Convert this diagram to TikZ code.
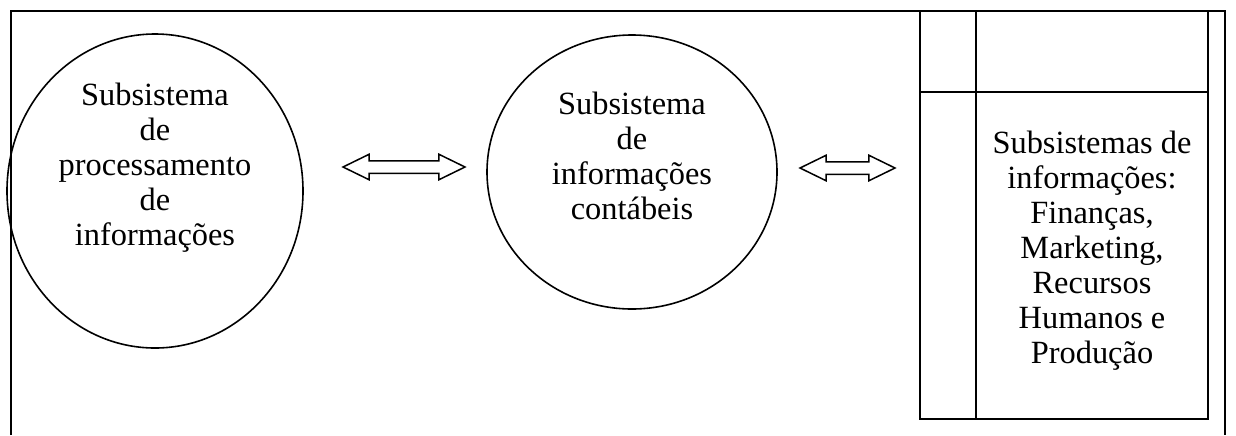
\documentclass[tikz,border=0pt]{standalone}
\usepackage{fontspec}
\setmainfont{Liberation Serif}
\usetikzlibrary{shapes.geometric,shapes.arrows}

\begin{document}
\begin{tikzpicture}[x=0.5pt,y=-0.5pt,
    sub/.style={draw,ellipse,line width=0.8pt,inner sep=0pt},
    rotulo/.style={align=center,inner sep=0pt,font=\fontsize{16.2pt}{17.5pt}\selectfont},
    seta/.style={draw,double arrow,line width=0.75pt,inner xsep=0pt,inner ysep=2.75pt,
      double arrow head extend=3.25pt,double arrow tip angle=52}]
      \useasboundingbox (0,0) rectangle (1236,435);
      \draw [line width=1pt] (11,435) -- (11,11) -- (1225,11) -- (1225,435);
%%
      \node (SP) [sub,minimum width=148pt,minimum height=157pt] at (155,191) {};
      \node (SPt) [rotulo] at (155,168) {Subsistema\\de\\processamento\\de\\informações};
%%
      \node (SC) [sub,minimum width=145pt,minimum height=137pt] at (632,172) {};
      \node (SCt) [rotulo] at (632,156) {Subsistema\\de\\informações\\contábeis};
%%
      \node (A1) [seta,minimum height=61pt] at (404,167) {};
      \node (A2) [seta,minimum height=47.5pt] at (847.5,168) {};
%%
      \draw [line width=1pt] (920,11) rectangle (1208,419);
      \draw [line width=1pt] (976,11) -- (976,419);
      \draw [line width=1pt] (920,92) -- (1208,92);
      \node (SAt) [rotulo] at (1092,251) {Subsistemas de\\informações:\\Finanças,\\Marketing,\\Recursos\\Humanos e\\Produção};
    \end{tikzpicture}
\end{document}
